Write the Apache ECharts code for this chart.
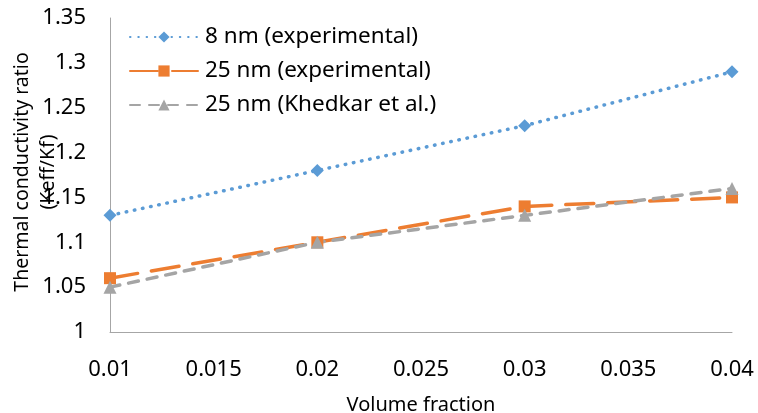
<!DOCTYPE html>
<html><head><meta charset="utf-8">
<script src="https://cdn.jsdelivr.net/npm/echarts@6/dist/echarts.min.js"></script>
<style>html,body{margin:0;padding:0;background:#fff}#c{width:758px;height:413px}</style>
</head><body><div id="c"></div>
<script>
const xValues = [0.01, 0.02, 0.03, 0.04];
const s8nm = [1.13, 1.18, 1.23, 1.29];
const s25exp = [1.06, 1.10, 1.14, 1.15];
const s25kh = [1.05, 1.10, 1.13, 1.16];
const seriesNames = ['8 nm (experimental)', '25 nm (experimental)', '25 nm (Khedkar et al.)'];
const xTitle = 'Volume fraction';
const yTitle = 'Thermal conductivity ratio\n(Keff/Kf)';

const FONT = 'Noto Sans';
const pair = a => a.map((v, i) => [xValues[i], v]);
const chart = echarts.init(document.getElementById('c'), null, {renderer: 'canvas'});
chart.setOption({
  animation: false,
  backgroundColor: '#fff',
  textStyle: {fontFamily: FONT},
  grid: {left: 110, right: 26, top: 18, bottom: 81, outerBoundsMode: 'none', containLabel: false},
  legend: {
    left: 124, top: 17, orient: 'vertical', itemWidth: 68, itemHeight: 14, itemGap: 4,
    textStyle: {fontSize: 22.5, color: '#000', fontFamily: FONT, padding: [0, 0, 0, 2], lineHeight: 30},
    data: seriesNames
  },
  xAxis: {
    type: 'value', min: 0.01, max: 0.04, interval: 0.005,
    name: xTitle, nameLocation: 'middle', nameGap: 63,
    nameTextStyle: {fontSize: 20, color: '#000', fontFamily: FONT},
    axisLine: {show: true, lineStyle: {color: '#a6a6a6', width: 1}},
    axisTick: {show: false}, splitLine: {show: false},
    axisLabel: {fontSize: 22, color: '#000', margin: 27, fontFamily: FONT,
      formatter: v => String(parseFloat(v.toFixed(3)))}
  },
  yAxis: {
    type: 'value', min: 1, max: 1.35, interval: 0.05,
    axisLine: {show: true, lineStyle: {color: '#a6a6a6', width: 1}},
    axisTick: {show: false}, splitLine: {show: false},
    axisLabel: {fontSize: 22, color: '#000', margin: 24, fontFamily: FONT,
      formatter: v => String(parseFloat(v.toFixed(2)))}
  },
  graphic: [{
    type: 'text', x: 35, y: 172, rotation: Math.PI / 2,
    style: {text: yTitle, font: '19.5px "Noto Sans"', fill: '#000', align: 'center',
      verticalAlign: 'middle', lineHeight: 26}
  }],
  series: [
    {name: seriesNames[0], type: 'line', data: pair(s8nm), symbol: 'diamond', symbolSize: 13,
      lineStyle: {color: '#5B9BD5', width: 3.5, type: [0.5, 7.8], cap: 'round'},
      itemStyle: {color: '#5B9BD5'}},
    {name: seriesNames[1], type: 'line', data: pair(s25exp), symbol: 'rect', symbolSize: 12,
      lineStyle: {color: '#ED7D31', width: 3.5, type: [28, 14], cap: 'round'},
      itemStyle: {color: '#ED7D31'}},
    {name: seriesNames[2], type: 'line', data: pair(s25kh), symbol: 'triangle', symbolSize: 13,
      lineStyle: {color: '#A5A5A5', width: 3.5, type: [10, 9], cap: 'round'},
      itemStyle: {color: '#A5A5A5'}}
  ]
});
</script></body></html>
